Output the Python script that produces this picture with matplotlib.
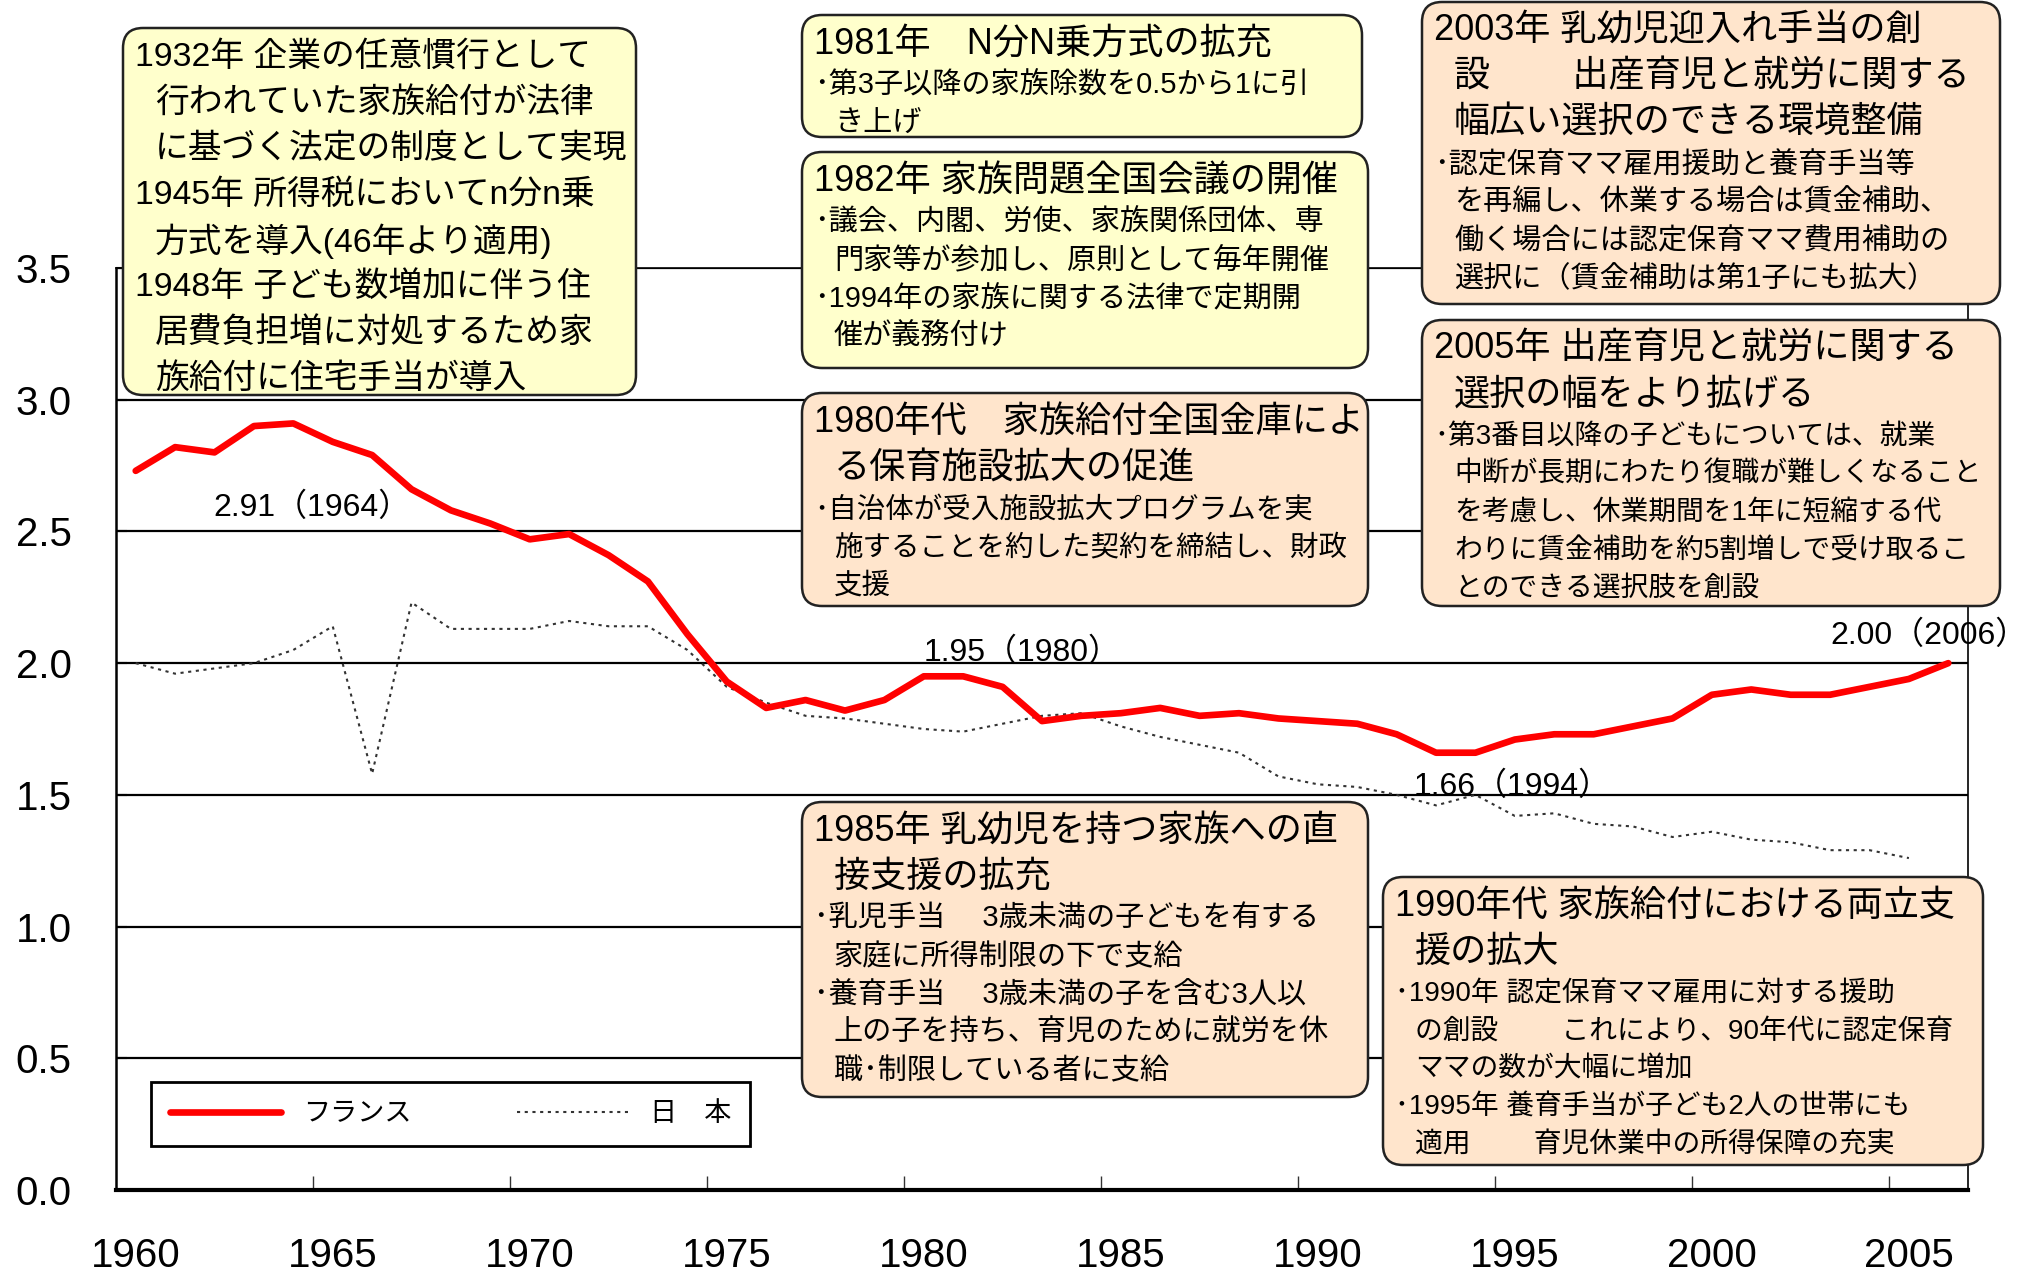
import matplotlib
matplotlib.use("Agg")
import matplotlib.pyplot as plt
from matplotlib.patches import FancyBboxPatch

plt.rcParams['font.family'] = ['Liberation Sans', 'Noto Sans CJK JP']

# total fertility rate
years_fr = list(range(1960, 2007))
france = [2.73, 2.82, 2.80, 2.90, 2.91, 2.84, 2.79, 2.66, 2.58, 2.53,
          2.47, 2.49, 2.41, 2.31, 2.11, 1.93, 1.83, 1.86, 1.82, 1.86,
          1.95, 1.95, 1.91, 1.78, 1.80, 1.81, 1.83, 1.80, 1.81, 1.79,
          1.78, 1.77, 1.73, 1.66, 1.66, 1.71, 1.73, 1.73, 1.76, 1.79,
          1.88, 1.90, 1.88, 1.88, 1.91, 1.94, 2.00]
years_jp = list(range(1960, 2006))
japan = [2.00, 1.96, 1.98, 2.00, 2.05, 2.14, 1.58, 2.23, 2.13, 2.13,
         2.13, 2.16, 2.14, 2.14, 2.05, 1.91, 1.85, 1.80, 1.79, 1.77,
         1.75, 1.74, 1.77, 1.80, 1.81, 1.76, 1.72, 1.69, 1.66, 1.57,
         1.54, 1.53, 1.50, 1.46, 1.50, 1.42, 1.43, 1.39, 1.38, 1.34,
         1.36, 1.33, 1.32, 1.29, 1.29, 1.26]
x_labels = [1960, 1965, 1970, 1975, 1980, 1985, 1990, 1995, 2000, 2005]
y_ticks = [0.0, 0.5, 1.0, 1.5, 2.0, 2.5, 3.0, 3.5]
marked = [1964, 1980, 1994, 2006]

YELLOW = '#FFFFCC'
PEACH = '#FFE5CC'

# box texts: (heading lines, body lines)
box_a = (["1932年 企業の任意慣行として", "行われていた家族給付が法律", "に基づく法定の制度として実現",
          "1945年 所得税においてn分n乗", "方式を導入(46年より適用)",
          "1948年 子ども数増加に伴う住", "居費負担増に対処するため家", "族給付に住宅手当が導入"], [])
box_b = (["1981年　N分N乗方式の拡充"],
         ["･第3子以降の家族除数を0.5から1に引", "き上げ"])
box_c = (["1982年 家族問題全国会議の開催"],
         ["･議会、内閣、労使、家族関係団体、専", "門家等が参加し、原則として毎年開催",
          "･1994年の家族に関する法律で定期開", "催が義務付け"])
box_d = (["1980年代　家族給付全国金庫によ", "る保育施設拡大の促進"],
         ["･自治体が受入施設拡大プログラムを実", "施することを約した契約を締結し、財政", "支援"])
box_e = (["2003年 乳幼児迎入れ手当の創", "設　　 出産育児と就労に関する", "幅広い選択のできる環境整備"],
         ["･認定保育ママ雇用援助と養育手当等", "を再編し、休業する場合は賃金補助、",
          "働く場合には認定保育ママ費用補助の", "選択に（賃金補助は第1子にも拡大）"])
box_f = (["2005年 出産育児と就労に関する", "選択の幅をより拡げる"],
         ["･第3番目以降の子どもについては、就業", "中断が長期にわたり復職が難しくなること",
          "を考慮し、休業期間を1年に短縮する代", "わりに賃金補助を約5割増しで受け取るこ",
          "とのできる選択肢を創設"])
box_g = (["1985年 乳幼児を持つ家族への直", "接支援の拡充"],
         ["･乳児手当　 3歳未満の子どもを有する", "家庭に所得制限の下で支給",
          "･養育手当　 3歳未満の子を含む3人以", "上の子を持ち、育児のために就労を休",
          "職･制限している者に支給"])
box_h = (["1990年代 家族給付における両立支", "援の拡大"],
         ["･1990年 認定保育ママ雇用に対する援助", "の創設　　 これにより、90年代に認定保育",
          "ママの数が大幅に増加", "･1995年 養育手当が子ども2人の世帯にも",
          "適用　　 育児休業中の所得保障の充実"])

W, H = 2023, 1275
fig = plt.figure(figsize=(W / 100, H / 100), dpi=100)

# main chart
ax = fig.add_axes([116 / W, 1 - 1190 / H, (1968 - 116) / W, (1190 - 268) / H])
ax.plot(years_fr, france, color='#FF0000', lw=4.8, solid_joinstyle='round',
        solid_capstyle='round', zorder=3, label='フランス')
ax.plot(years_jp, japan, color='#333333', lw=1.5, linestyle=(0, (1.5, 2.2)),
        zorder=2, label='日　本')

ax.set_xlim(1959.5, 2006.5)
ax.set_ylim(0, 3.5)
ax.set_yticks(y_ticks)
ax.set_yticklabels([f"{v:.1f}" for v in y_ticks])
ax.set_xticks(x_labels)
ax.set_xticklabels([str(v) for v in x_labels])
ax.set_xticks([v + 4.5 for v in x_labels[:-1]], minor=True)
ax.tick_params(axis='x', which='major', length=0, pad=34, labelsize=29)
ax.tick_params(axis='x', which='minor', length=10, width=1, direction='in', color='#333333')
ax.tick_params(axis='y', length=8, width=1.5, direction='in', pad=32, labelsize=29)
for y in y_ticks[1:]:
    ax.axhline(y, color='black', lw=1.6, zorder=1)
for s in ['left', 'right', 'top']:
    ax.spines[s].set_linewidth(1.2)
ax.spines['left'].set_linewidth(1.8)
ax.spines['bottom'].set_linewidth(3)

# value labels
offsets = {1964: (19, -84, 'center'), 1980: (0, 24, 'left'),
           1994: (-62, -34, 'left'), 2006: (-118, 27, 'left')}
for yr in marked:
    v = france[years_fr.index(yr)]
    dx, dy, ha = offsets[yr]
    ax.annotate(f"{v:.2f}（{yr}）", xy=(yr, v), xytext=(dx, dy),
                textcoords='offset pixels', ha=ha, va='center', fontsize=23,
                annotation_clip=False, zorder=4)

leg = ax.legend(loc='lower left', bbox_to_anchor=(0.0189, 0.0477), ncol=2,
                fontsize=19.5, frameon=True, fancybox=False, borderaxespad=0,
                handlelength=4.1, handletextpad=0.8, columnspacing=3.9,
                borderpad=0.7)
leg.get_frame().set_edgecolor('black')
leg.get_frame().set_linewidth(2)
leg.get_frame().set_alpha(1)

# overlay in pixel coordinates for the annotation boxes
ov = fig.add_axes([0, 0, 1, 1], zorder=5)
ov.set_xlim(0, W)
ov.set_ylim(H, 0)
ov.axis('off')


def draw_box(x0, y0, x1, y1, box, color, hsize=26, bsize=21):
    heads, body = box
    ov.add_patch(FancyBboxPatch((x0, y0), x1 - x0, y1 - y0,
                                boxstyle="round,pad=0,rounding_size=20",
                                fc=color, ec='#222222', lw=1.8))
    y = y0 + 29
    for i, line in enumerate(heads):
        indent = 0 if (i == 0 or line[0].isdigit()) else 20
        ov.text(x0 + 12 + indent, y, line, fontsize=hsize, ha='left', va='center')
        y += 46
    if body:
        y += -4
        for line in body:
            indent = 0 if line.startswith('･') else 20
            ov.text(x0 + 12 + indent, y, line, fontsize=bsize, ha='left', va='center')
            y += 38


draw_box(123, 28, 636, 395, box_a, YELLOW, hsize=24.3)
draw_box(802, 15, 1362, 137, box_b, YELLOW)
draw_box(802, 152, 1368, 368, box_c, YELLOW)
draw_box(802, 393, 1368, 606, box_d, PEACH, bsize=20.5)
draw_box(1422, 2, 2000, 304, box_e, PEACH)
draw_box(1422, 320, 2000, 606, box_f, PEACH, bsize=20)
draw_box(802, 802, 1368, 1097, box_g, PEACH)
draw_box(1383, 877, 1983, 1165, box_h, PEACH, bsize=20)

fig.savefig('out.png', dpi=100)
